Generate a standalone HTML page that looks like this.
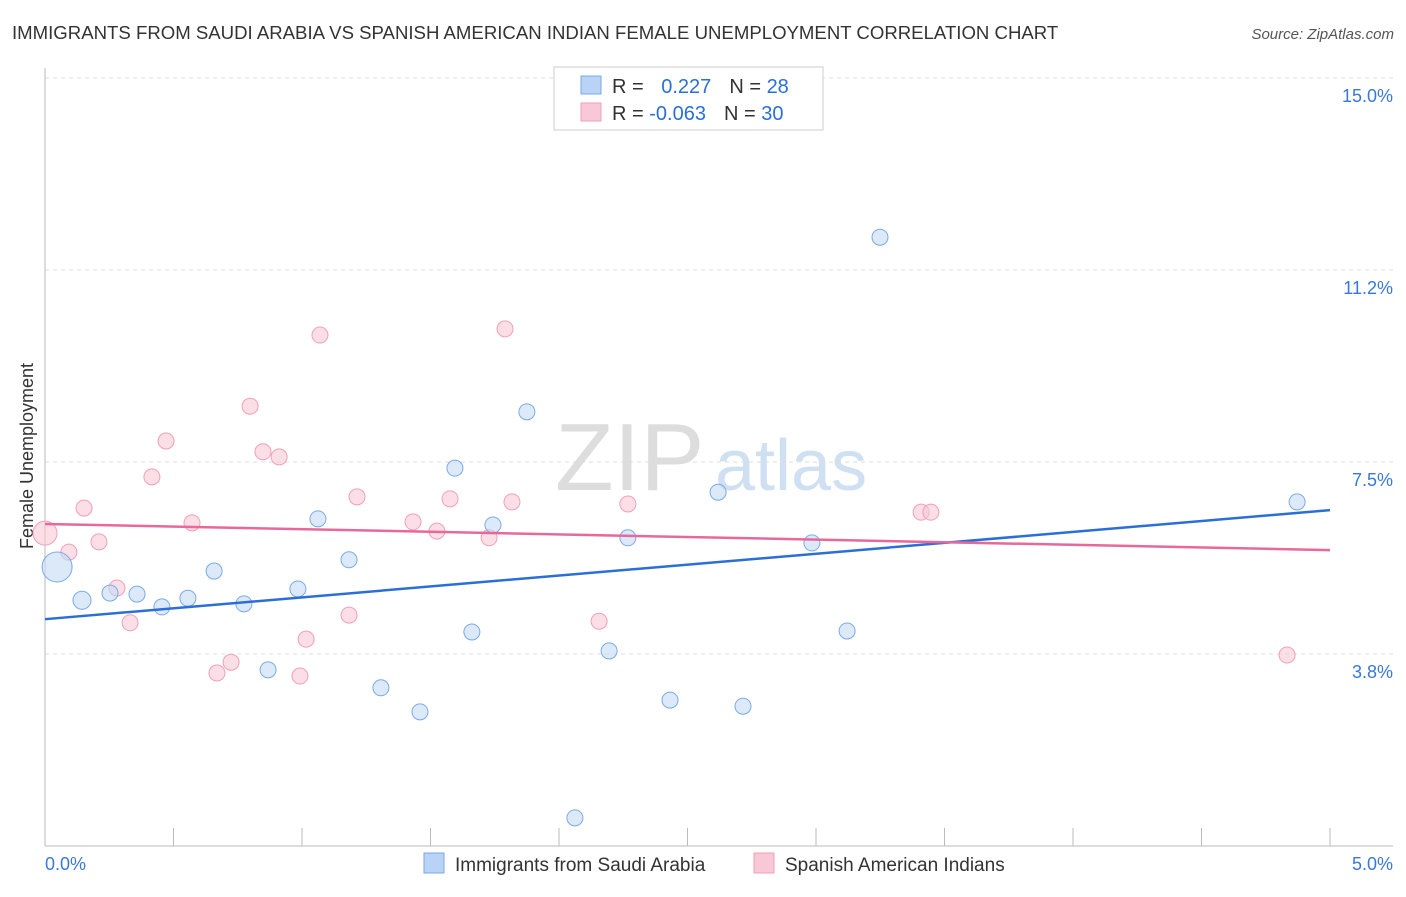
<!DOCTYPE html>
<html><head><meta charset="utf-8"><style>
body{margin:0;background:#fff;font-family:"Liberation Sans",sans-serif;}
svg text{font-family:"Liberation Sans",sans-serif;}
</style></head><body>
<svg id="c" width="1406" height="892" xmlns="http://www.w3.org/2000/svg">
<text x="12" y="39" font-size="18.6" fill="#333">IMMIGRANTS FROM SAUDI ARABIA VS SPANISH AMERICAN INDIAN FEMALE UNEMPLOYMENT CORRELATION CHART</text>
<text x="1394" y="39" font-size="15" fill="#555" font-style="italic" text-anchor="end">Source: ZipAtlas.com</text>
<text x="555" y="490" font-size="96" fill="#ddd" font-family="Liberation Serif">ZIP</text>
<text x="715" y="490" font-size="72" fill="#cfe0f3">atlas</text>
<text transform="translate(33,456) rotate(-90)" font-size="18" fill="#333" text-anchor="middle">Female Unemployment</text>
<g id="grid"></g><g id="marks"></g>
<g>
<rect x="554" y="67" width="269" height="63" fill="#fff" stroke="#ccc"/>
<rect x="581" y="76" width="20" height="18" fill="#b8d3f5" stroke="#7aaae8"/>
<rect x="581" y="103" width="20" height="18" fill="#f9c8d6" stroke="#f0a0b8"/>
<text x="612" y="93" font-size="20" fill="#333">R = <tspan fill="#2b6fd6" dx="12">0.227</tspan><tspan dx="18" fill="#333">N = </tspan><tspan fill="#2b6fd6">28</tspan></text>
<text x="612" y="120" font-size="20" fill="#333">R = <tspan fill="#2b6fd6">-0.063</tspan><tspan dx="18" fill="#333">N = </tspan><tspan fill="#2b6fd6">30</tspan></text>
</g>
<g>
<rect x="424" y="853" width="20" height="20" fill="#b8d3f5" stroke="#7aaae8"/>
<text x="455" y="871" font-size="19" fill="#333">Immigrants from Saudi Arabia</text>
<rect x="754" y="853" width="20" height="20" fill="#f9c8d6" stroke="#f0a0b8"/>
<text x="785" y="871" font-size="19" fill="#333">Spanish American Indians</text>
</g>
</svg>
<script>
const blueX=[0.047,0.144,0.253,0.358,0.455,0.556,0.658,0.774,0.868,0.984,1.062,1.183,1.307,1.459,1.595,1.661,1.743,1.875,2.062,2.195,2.268,2.432,2.619,2.716,2.984,3.121,3.249,4.872];
const blueY=[5.45,4.80,4.94,4.92,4.67,4.84,5.37,4.73,3.44,5.02,6.39,5.59,3.09,2.62,7.38,4.18,6.27,8.48,0.55,3.81,6.02,2.85,6.91,2.73,5.92,4.20,11.89,6.72];
const blueR=[15,9,8,8,8,8,8,8,8,8,8,8,8,8,8,8,8,8,8,8,8,8,8,8,8,8,8,8];
const pinkX=[0,0.093,0.152,0.210,0.280,0.331,0.416,0.471,0.572,0.669,0.724,0.798,0.848,0.911,0.992,1.016,1.070,1.183,1.214,1.432,1.525,1.576,1.728,1.790,1.817,2.156,2.268,3.409,3.447,4.833];
const pinkY=[6.11,5.74,6.60,5.94,5.04,4.36,7.21,7.91,6.31,3.38,3.59,8.59,7.70,7.60,3.32,4.04,9.98,4.51,6.82,6.33,6.15,6.78,6.02,10.10,6.72,4.39,6.68,6.52,6.52,3.73];
const pinkR=[12,8,8,8,8,8,8,8,8,8,8,8,8,8,8,8,8,8,8,8,8,8,8,8,8,8,8,8,8,8];
const blueTrend=[4.43,6.56];
const pinkTrend=[6.29,5.78];
const yTicks=[3.75,7.5,11.25,15];
const yTickLabels=["3.8%","7.5%","11.2%","15.0%"];
const xTicks=[0,0.5,1,1.5,2,2.5,3,3.5,4,4.5,5];
const NS="http://www.w3.org/2000/svg";
const sx=v=>45+v*257, sy=v=>846-v*51.2;
function mk(t,a,p){const e=document.createElementNS(NS,t);for(const k in a)e.setAttribute(k,a[k]);p.appendChild(e);return e;}
const g=document.getElementById('grid'), m=document.getElementById('marks');
yTicks.forEach((t,i)=>{
 const l=mk('line',{x1:45,x2:1393,y1:sy(t),y2:sy(t),stroke:'#ddd','stroke-dasharray':'4,4'},g);
 
 
 const tx=mk('text',{x:1393,y:sy(t)+24,'font-size':18,fill:'#3a78d8','text-anchor':'end'},g);
 tx.textContent=yTickLabels[i];
 
 
});
const ax=mk('line',{x1:45,x2:45,y1:68,y2:846,stroke:'#bbb'},g);


const bx=mk('line',{x1:45,x2:1393,y1:846,y2:846,stroke:'#bbb'},g);


xTicks.forEach(t=>{
 const l=mk('line',{x1:sx(t),x2:sx(t),y1:828,y2:846,stroke:'#bbb'},g);
 
 
});
const xl0=mk('text',{x:45,y:870,'font-size':18,fill:'#3a78d8'},g);xl0.textContent=xTicks[0].toFixed(1)+'%';


const xl1=mk('text',{x:1393,y:870,'font-size':18,fill:'#3a78d8','text-anchor':'end'},g);xl1.textContent=xTicks[xTicks.length-1].toFixed(1)+'%';


function pts(X,Y,R,fill,stroke,name){X.forEach((x,i)=>{
 const c=mk('circle',{cx:sx(x),cy:sy(Y[i]),r:R[i],fill:fill,stroke:stroke,'stroke-width':1,'fill-opacity':0.6},m);
 
 
});}
pts(pinkX,pinkY,pinkR,'#f9c8d6','#f0a0b8','pink-point');
pts(blueX,blueY,blueR,'#c4daf5','#7aaae8','blue-point');
const bl=mk('line',{x1:sx(0),x2:sx(5),y1:sy(blueTrend[0]),y2:sy(blueTrend[1]),stroke:'#2b6fd6','stroke-width':2.5},m);


const pl=mk('line',{x1:sx(0),x2:sx(5),y1:sy(pinkTrend[0]),y2:sy(pinkTrend[1]),stroke:'#e8689a','stroke-width':2.5},m);


</script>
</body></html>
